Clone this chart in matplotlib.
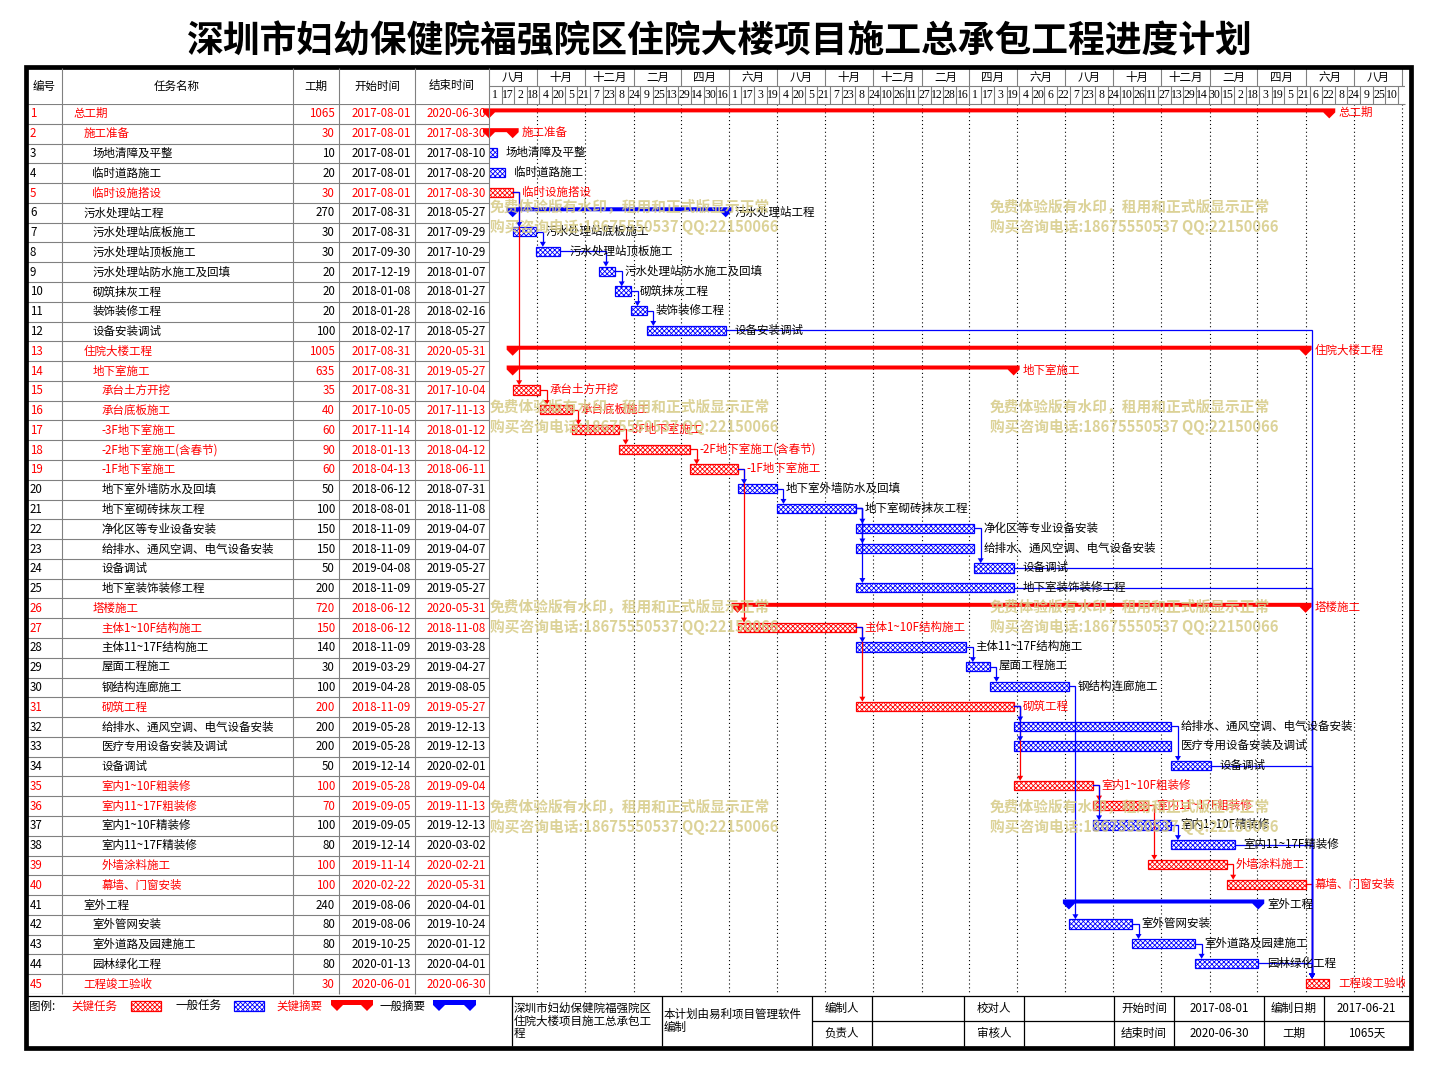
import datetime as dt
import matplotlib
matplotlib.use('Agg')
import matplotlib.pyplot as plt
import matplotlib.dates as mdates
from matplotlib.patches import Rectangle, Polygon

plt.rcParams['font.family'] = ['Noto Sans CJK SC', 'DejaVu Sans']
plt.rcParams['hatch.linewidth'] = 0.6

RED = '#ff0000'
BLUE = '#0000ff'
GRID = '#808080'
WM = '#d6cb86'

# ---------------- 数据 ----------------
title = '深圳市妇幼保健院福强院区住院大楼项目施工总承包工程进度计划'

names = ['总工期', '施工准备', '场地清障及平整', '临时道路施工', '临时设施搭设',
         '污水处理站工程', '污水处理站底板施工', '污水处理站顶板施工',
         '污水处理站防水施工及回填', '砌筑抹灰工程', '装饰装修工程', '设备安装调试',
         '住院大楼工程', '地下室施工', '承台土方开挖', '承台底板施工', '-3F地下室施工',
         '-2F地下室施工(含春节)', '-1F地下室施工', '地下室外墙防水及回填',
         '地下室砌砖抹灰工程', '净化区等专业设备安装', '给排水、通风空调、电气设备安装',
         '设备调试', '地下室装饰装修工程', '塔楼施工', '主体1~10F结构施工',
         '主体11~17F结构施工', '屋面工程施工', '钢结构连廊施工', '砌筑工程',
         '给排水、通风空调、电气设备安装', '医疗专用设备安装及调试', '设备调试',
         '室内1~10F粗装修', '室内11~17F粗装修', '室内1~10F精装修', '室内11~17F精装修',
         '外墙涂料施工', '幕墙、门窗安装', '室外工程', '室外管网安装', '室外道路及园建施工',
         '园林绿化工程', '工程竣工验收']

levels = [0, 1, 2, 2, 2, 1, 2, 2, 2, 2, 2, 2, 1, 2] + [3] * 11 + [2] + [3] * 14 + [1, 2, 2, 2, 1]

durations = [1065, 30, 10, 20, 30, 270, 30, 30, 20, 20, 20, 100, 1005, 635, 35, 40, 60, 90,
             60, 50, 100, 150, 150, 50, 200, 720, 150, 140, 30, 100, 200, 200, 200, 50, 100,
             70, 100, 80, 100, 100, 240, 80, 80, 80, 30]

starts = ['2017-08-01', '2017-08-01', '2017-08-01', '2017-08-01', '2017-08-01', '2017-08-31',
          '2017-08-31', '2017-09-30', '2017-12-19', '2018-01-08', '2018-01-28', '2018-02-17',
          '2017-08-31', '2017-08-31', '2017-08-31', '2017-10-05', '2017-11-14', '2018-01-13',
          '2018-04-13', '2018-06-12', '2018-08-01', '2018-11-09', '2018-11-09', '2019-04-08',
          '2018-11-09', '2018-06-12', '2018-06-12', '2018-11-09', '2019-03-29', '2019-04-28',
          '2018-11-09', '2019-05-28', '2019-05-28', '2019-12-14', '2019-05-28', '2019-09-05',
          '2019-09-05', '2019-12-14', '2019-11-14', '2020-02-22', '2019-08-06', '2019-08-06',
          '2019-10-25', '2020-01-13', '2020-06-01']

ends = ['2020-06-30', '2017-08-30', '2017-08-10', '2017-08-20', '2017-08-30', '2018-05-27',
        '2017-09-29', '2017-10-29', '2018-01-07', '2018-01-27', '2018-02-16', '2018-05-27',
        '2020-05-31', '2019-05-27', '2017-10-04', '2017-11-13', '2018-01-12', '2018-04-12',
        '2018-06-11', '2018-07-31', '2018-11-08', '2019-04-07', '2019-04-07', '2019-05-27',
        '2019-05-27', '2020-05-31', '2018-11-08', '2019-03-28', '2019-04-27', '2019-08-05',
        '2019-05-27', '2019-12-13', '2019-12-13', '2020-02-01', '2019-09-04', '2019-11-13',
        '2019-12-13', '2020-03-02', '2020-02-21', '2020-05-31', '2020-04-01', '2019-10-24',
        '2020-01-12', '2020-04-01', '2020-06-30']

critical_rows = [1, 2, 5, 13, 14, 15, 16, 17, 18, 19, 26, 27, 31, 35, 36, 39, 40, 45]
summary_rows = [1, 2, 6, 13, 14, 26, 41]

# (紧前, 紧后)
links = [(5, 7), (5, 15), (7, 8), (8, 9), (9, 10), (10, 11), (11, 12), (12, 45),
         (15, 16), (16, 17), (17, 18), (18, 19), (19, 20), (19, 27), (20, 21),
         (21, 22), (21, 23), (21, 25), (22, 24), (24, 45), (25, 45),
         (27, 28), (27, 31), (28, 29), (29, 30), (30, 42), (31, 32), (31, 33), (31, 35),
         (32, 34), (34, 45), (35, 36), (35, 37), (36, 39), (37, 38), (38, 45),
         (39, 40), (40, 45), (42, 43), (43, 44), (44, 45)]

month_names = ['八月', '十月', '十二月', '二月', '四月', '六月']
col_titles = ['编号', '任务名称', '工期', '开始时间', '结束时间']

legend_items = ['关键任务', '一般任务', '关键摘要', '一般摘要']
footer_row1 = ['编制人', '', '校对人', '', '开始时间', '2017-08-01', '编制日期', '2017-06-21']
footer_row2 = ['负责人', '', '审核人', '', '结束时间', '2020-06-30', '工期', '1065天']
footer_project = '深圳市妇幼保健院福强院区\n住院大楼项目施工总承包工\n程'
footer_soft = '本计划由易利项目管理软件\n编制'
watermark = '免费体验版有水印，租用和正式版显示正常\n购买咨询电话:18675550537 QQ:22150066'

# ---------------- 版面 ----------------
W, H, DPI = 1435, 1071, 100
fig = plt.figure(figsize=(W / DPI, H / DPI), dpi=DPI)

GX0, GX1 = 489, 1405      # 横道图左右
HY0, HY1 = 68, 104        # 表头上下
RY1 = 994                 # 最后一行底
TX0 = 27


def rect(x0, y0, x1, y1):
    return [x0 / W, 1 - y1 / H, (x1 - x0) / W, (y1 - y0) / H]


table = fig.add_axes(rect(TX0, HY1, GX0, RY1))
gantt = fig.add_axes(rect(GX0, HY1, GX1, RY1), sharey=table)
head = fig.add_axes(rect(GX0, HY0, GX1, HY1))
frame = fig.add_axes([0, 0, 1, 1], zorder=5)
frame.patch.set_visible(False)
frame.set_xlim(0, W)
frame.set_ylim(H, 0)
frame.axis('off')

n = len(names)
table.set_ylim(n + 0.5, 0.5)
table.set_xlim(TX0, GX0)
table.axis('off')

t0 = mdates.date2num(dt.date(2017, 8, 1))
t1 = mdates.date2num(dt.date(2020, 10, 5))
gantt.set_xlim(t0, t1)
gantt.axis('off')
head.set_xlim(t0, t1)
head.set_ylim(2, 0)
head.axis('off')

PXD = (GX1 - GX0) / (t1 - t0)   # 像素/天
PXR = (RY1 - HY1) / n           # 像素/行
FS = 8.3

# ---------------- 标题 ----------------
frame.text(720, 42, title, ha='center', va='center', fontsize=26.5, fontweight='bold')

# ---------------- 左侧表格 ----------------
for k in range(n + 1):
    table.axhline(k + 0.5, color=GRID, lw=0.8)
frame.vlines([62, 293, 339, 415, GX0], HY0, RY1, color=GRID, lw=0.8)
frame.hlines(HY1, GX0, GX1, color=GRID, lw=0.8)

title_x = [44, 177, 316, 377, 452]
for x, t in zip(title_x, col_titles):
    frame.text(x, 86, t, ha='center', va='center', fontsize=FS)

for i in range(n):
    r = i + 1
    c = RED if r in critical_rows else 'black'
    table.text(30, r, str(r), color=c, fontsize=FS, va='center', ha='left')
    table.text(74 + 9.2 * levels[i], r, names[i], color=c, fontsize=FS, va='center', ha='left')
    table.text(335, r, str(durations[i]), color=c, fontsize=FS, va='center', ha='right')
    table.text(411, r, starts[i], color=c, fontsize=FS, va='center', ha='right')
    table.text(486, r, ends[i], color=c, fontsize=FS, va='center', ha='right')

# ---------------- 时间刻度 ----------------
bounds = []
yy, mm = 2017, 8
while True:
    x = mdates.date2num(dt.date(yy, mm, 1))
    if x > t1:
        break
    bounds.append(x)
    mm += 2
    if mm > 12:
        mm -= 12
        yy += 1

head.axhline(1, color=GRID, lw=0.8)
head.vlines(bounds[1:], 0, 1, color=GRID, lw=0.8)
for i in range(len(bounds) - 1):
    head.text((bounds[i] + bounds[i + 1]) / 2, 0.5, month_names[i % 6],
              ha='center', va='center', fontsize=FS)

day_ticks = [t0 + 16 * k for k in range(int((t1 - t0) // 16) + 1)]
head.vlines(day_ticks[1:], 1, 2, color=GRID, lw=0.8)
for x in day_ticks:
    if x + 16 <= t1:
        head.text(x + 8, 1.52, str(mdates.num2date(x).day), ha='center', va='center',
                  fontsize=8.5, family='Liberation Serif')

gantt.vlines(bounds[1:], 0.5, n + 0.5, color='black', lw=0.8, linestyles=(0, (1, 2.5)))

# ---------------- 横道 ----------------
d6 = 6 / PXD
for i in range(n):
    r = i + 1
    x0 = mdates.date2num(dt.date.fromisoformat(starts[i]))
    x1 = mdates.date2num(dt.date.fromisoformat(ends[i])) + 1
    crit = r in critical_rows
    col = RED if crit else BLUE
    if r in summary_rows:
        top, base, tip = r - 5.5 / PXR, r - 1.5 / PXR, r + 4.5 / PXR
        pts = [(x0 - d6, top), (x1 + d6, top), (x1 + d6, base), (x1, tip), (x1 - d6, base),
               (x0 + d6, base), (x0, tip), (x0 - d6, base)]
        gantt.add_patch(Polygon(pts, closed=True, facecolor=col, edgecolor='none',
                                zorder=2, clip_on=False))
        lx = x1 + 9 / PXD
    else:
        gantt.add_patch(Rectangle((x0, r - 5.5 / PXR), x1 - x0, 9.3 / PXR, facecolor='white',
                                  edgecolor=col, hatch='xxxxxxx', lw=0.9, zorder=2))
        lx = x1 + 9 / PXD
    gantt.text(lx, r - 1 / PXR, names[i].lstrip() if True else names[i],
               color=RED if crit else 'black', fontsize=FS, va='center', ha='left',
               zorder=4, clip_on=True)

# ---------------- 逻辑关系 ----------------
for p, s in links:
    crit = p in critical_rows and s in critical_rows
    col = RED if crit else BLUE
    zo = 3 if crit else 3.5
    xe = mdates.date2num(dt.date.fromisoformat(ends[p - 1])) + 1
    xa = mdates.date2num(dt.date.fromisoformat(starts[s - 1])) + 6.5 / PXD
    yp = p - 1 / PXR
    ys = s - 5.5 / PXR
    ah = 5 / PXR
    gantt.plot([xe, xa, xa], [yp, yp, ys - ah], color=col, lw=0.9, zorder=zo,
               solid_joinstyle='miter')
    gantt.add_patch(Polygon([(xa - 3 / PXD, ys - ah), (xa + 3 / PXD, ys - ah), (xa, ys)],
                            closed=True, facecolor=col, edgecolor='none', zorder=zo))

# ---------------- 水印 ----------------
for wy in [217, 417, 617, 817]:
    for wx in [490, 990]:
        frame.text(wx, wy, watermark, color=WM, fontsize=10.6, fontweight='bold',
                   ha='left', va='center', linespacing=1.25, alpha=0.85, zorder=6)

# ---------------- 图例与签署栏 ----------------
FY0, FYM, FY1 = 996, 1021, 1046
frame.hlines(FY0, TX0, 1409, color='black', lw=0.9)
frame.vlines([512, 662, 812, 872, 964, 1024, 1114, 1174, 1264, 1324], FY0, FY1,
             color='black', lw=0.9)
frame.hlines(FYM, 812, 1409, color='black', lw=0.9)

LY = 1006
frame.text(29, LY, '图例:', fontsize=FS, va='center', ha='left')
frame.text(71, LY, legend_items[0], color=RED, fontsize=FS, va='center', ha='left')
frame.add_patch(Rectangle((131, LY - 5), 30, 10, facecolor='white', edgecolor=RED,
                          hatch='xxxxxxx', lw=0.9))
frame.text(175, LY, legend_items[1], fontsize=FS, va='center', ha='left')
frame.add_patch(Rectangle((234, LY - 5), 30, 10, facecolor='white', edgecolor=BLUE,
                          hatch='xxxxxxx', lw=0.9))
frame.text(276, LY, legend_items[2], color=RED, fontsize=FS, va='center', ha='left')
frame.text(379, LY, legend_items[3], fontsize=FS, va='center', ha='left')
for xa, xb, col in [(331, 373, RED), (433, 476, BLUE)]:
    top, base, tip = LY - 6, LY - 1, LY + 5
    pts = [(xa, top), (xb, top), (xb, base), (xb - 6, tip), (xb - 12, base),
           (xa + 12, base), (xa + 6, tip), (xa, base)]
    frame.add_patch(Polygon(pts, closed=True, facecolor=col, edgecolor='none'))

frame.text(514, 1021, footer_project, fontsize=FS, va='center', ha='left', linespacing=0.95)
frame.text(664, 1021, footer_soft, fontsize=FS, va='center', ha='left', linespacing=0.95)

cell_x = [812, 872, 964, 1024, 1114, 1174, 1264, 1324, 1409]
for j in range(len(footer_row1)):
    cx = (cell_x[j] + cell_x[j + 1]) / 2
    frame.text(cx, 1008.5, footer_row1[j], fontsize=FS, va='center', ha='center')
    frame.text(cx, 1033.5, footer_row2[j], fontsize=FS, va='center', ha='center')

# 外框
frame.add_patch(Rectangle((25.5, 66.5), 1410.5 - 25.5, 1047.5 - 66.5, fill=False,
                          edgecolor='black', lw=3.4, joinstyle='miter'))

fig.savefig('out.png', dpi=DPI, facecolor='white')
